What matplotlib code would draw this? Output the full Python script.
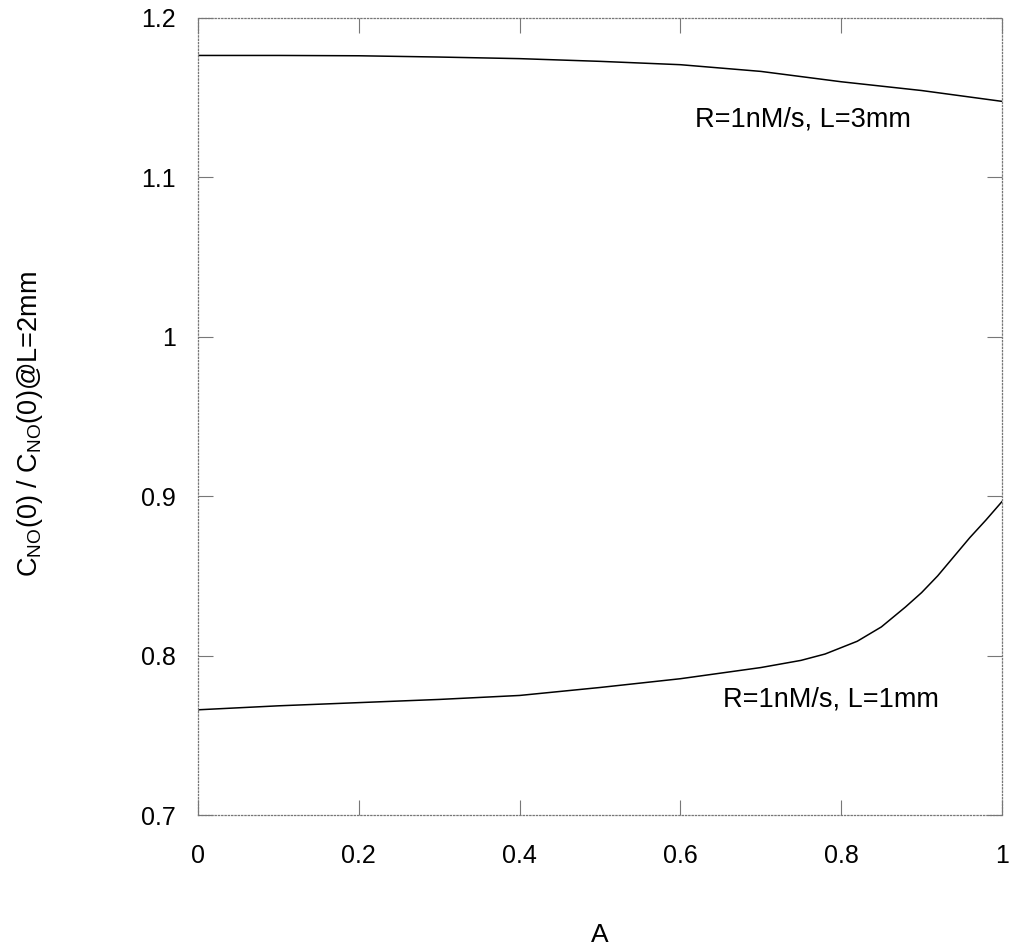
import matplotlib
matplotlib.use("Agg")
import matplotlib.pyplot as plt

# values
a_top = [0.0, 0.1, 0.2, 0.3, 0.4, 0.5, 0.6, 0.7, 0.8, 0.9, 1.0]
c_top = [1.1765, 1.1765, 1.1763, 1.1755, 1.1745, 1.1728, 1.1707, 1.1665, 1.1600, 1.1545, 1.1477]

a_bot = [0.0, 0.1, 0.2, 0.3, 0.4, 0.5, 0.6, 0.65, 0.7, 0.75, 0.78, 0.8,
         0.82, 0.85, 0.88, 0.9, 0.92, 0.94, 0.96, 0.98, 1.0]
c_bot = [0.766, 0.7685, 0.7705, 0.7725, 0.775, 0.780, 0.7855, 0.789, 0.7925, 0.797, 0.801, 0.805,
         0.809, 0.818, 0.8305, 0.8395, 0.850, 0.862, 0.874, 0.885, 0.8966]

label_top = "R=1nM/s, L=3mm"
label_bot = "R=1nM/s, L=1mm"
xticks = [0, 0.2, 0.4, 0.6, 0.8, 1]
yticks = [0.7, 0.8, 0.9, 1.0, 1.1, 1.2]

plt.rcParams['font.family'] = ['Liberation Sans', 'DejaVu Sans']
plt.rcParams['mathtext.fontset'] = 'custom'
plt.rcParams['mathtext.rm'] = 'Liberation Sans'

fig = plt.figure(figsize=(10.13, 9.52), dpi=100)
ax = fig.add_axes([0.1955, 0.1439, 0.7936, 0.8372])

ax.plot(a_top, c_top, color='black', lw=1.1)
ax.plot(a_bot, c_bot, color='black', lw=1.1)

ax.text(0.618, 1.1366, label_top, fontsize=19.5, va='center', ha='left')
ax.text(0.653, 0.7722, label_bot, fontsize=19.5, va='center', ha='left')

ax.set_xlim(0, 1)
ax.set_ylim(0.7, 1.2)
ax.set_xticks(xticks)
ax.set_xticklabels(['0', '0.2', '0.4', '0.6', '0.8', '1'])
ax.set_yticks(yticks)
ax.set_yticklabels(['0.7', '0.8', '0.9', '1', '1.1', '1.2'])

for sp in ax.spines.values():
    sp.set_linestyle(':')
    sp.set_color('#777777')
    sp.set_linewidth(0.9)

ax.tick_params(axis='both', direction='in', length=10.5, width=0.8, color='#777777',
               labelsize=18, top=True, right=True)
ax.tick_params(axis='x', pad=21)
ax.tick_params(axis='y', pad=16)

ax.set_xlabel('A', fontsize=19)
ax.xaxis.set_label_coords(0.5, -0.135)
ax.set_ylabel(r'C$_{\mathrm{NO}}$(0) / C$_{\mathrm{NO}}$(0)@L=2mm', fontsize=19.5)
ax.yaxis.set_label_coords(-0.19, 0.49)

fig.savefig('out.png', dpi=100)
